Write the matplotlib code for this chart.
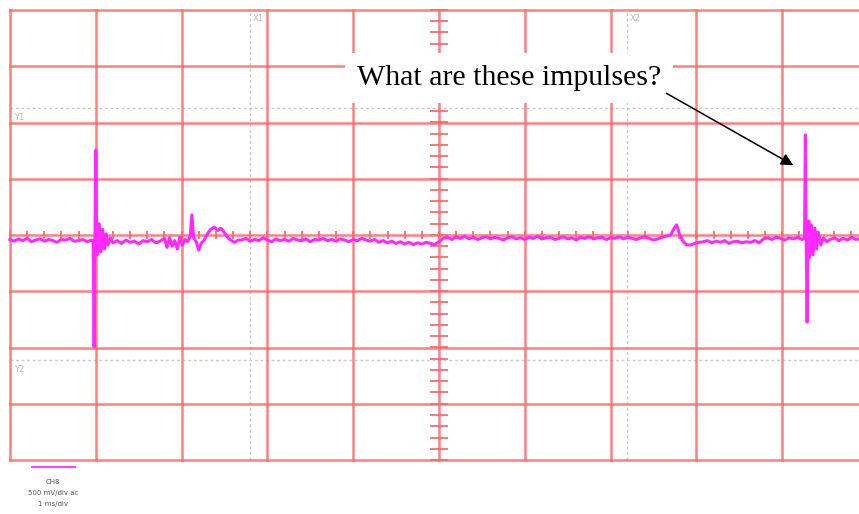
import numpy as np
import matplotlib
matplotlib.use("Agg")
import matplotlib.pyplot as plt

# scope trace, time in divisions, voltage in divisions (0 = centre line)
trace_t = [
    0.00, 0.05, 0.10, 0.15, 0.20, 0.25, 0.30, 0.35, 0.40, 0.45,
    0.50, 0.55, 0.60, 0.65, 0.70, 0.75, 0.80, 0.85, 0.90, 0.95,
    0.97, 0.98, 0.99, 1.00, 1.01, 1.02, 1.04, 1.06, 1.08, 1.10,
    1.12, 1.14, 1.17, 1.20,
    1.25, 1.30, 1.35, 1.40, 1.45, 1.50, 1.55, 1.60, 1.65, 1.70, 1.75,
    1.80, 1.83, 1.86, 1.89, 1.92, 1.95, 1.98, 2.01, 2.04, 2.07,
    2.10, 2.12, 2.14, 2.17, 2.20, 2.23, 2.26, 2.30, 2.34, 2.38,
    2.42, 2.46, 2.50, 2.54, 2.58, 2.62, 2.66,
    2.70, 2.75, 2.80, 2.85, 2.90, 2.95, 3.00, 3.05, 3.10, 3.15,
    3.20, 3.25, 3.30, 3.35, 3.40, 3.45, 3.50, 3.55, 3.60, 3.65,
    3.70, 3.75, 3.80, 3.85, 3.90, 3.95, 4.00, 4.05, 4.10, 4.15,
    4.20, 4.25, 4.30, 4.35, 4.40, 4.45, 4.50, 4.55, 4.60, 4.65,
    4.70, 4.75, 4.80, 4.85,
    4.90, 4.95, 5.00, 5.05, 5.10, 5.15, 5.20, 5.25, 5.30, 5.35,
    5.40, 5.45, 5.50, 5.55, 5.60, 5.65, 5.70, 5.75, 5.80, 5.85,
    5.90, 5.95, 6.00, 6.05, 6.10, 6.15, 6.20, 6.25, 6.30, 6.35,
    6.40, 6.45, 6.50, 6.55, 6.60, 6.65, 6.70, 6.75, 6.80, 6.85,
    6.90, 6.95, 7.00, 7.05, 7.10, 7.15, 7.20, 7.25, 7.30, 7.35,
    7.40, 7.45, 7.50, 7.55, 7.60, 7.65,
    7.70, 7.74, 7.77, 7.80, 7.84, 7.88, 7.93, 7.98, 8.03,
    8.08, 8.13, 8.18, 8.23, 8.28, 8.33, 8.38, 8.43, 8.48, 8.53,
    8.58, 8.63, 8.68, 8.73, 8.78, 8.83, 8.88, 8.93, 8.98, 9.03,
    9.08, 9.13, 9.18, 9.23,
    9.26, 9.27, 9.28, 9.29, 9.30, 9.31, 9.32, 9.34, 9.36, 9.38,
    9.40, 9.42, 9.45, 9.48, 9.52,
    9.56, 9.61, 9.66, 9.71, 9.76, 9.81, 9.86, 9.91,
]
trace_v = [
    -0.08, -0.11, -0.07, -0.10, -0.06, -0.12, -0.09, -0.07, -0.11, -0.08,
    -0.10, -0.13, -0.08, -0.09, -0.06, -0.11, -0.10, -0.08, -0.12, -0.09,
    -0.10, -1.99, -0.05, 1.51, 0.05, -0.35, 0.20, -0.30, 0.10, -0.25,
    0.02, -0.18, -0.05, -0.14,
    -0.10, -0.15, -0.09, -0.13, -0.11, -0.16, -0.10, -0.12, -0.08, -0.14, -0.11,
    -0.06, -0.22, -0.05, -0.20, -0.10, -0.25, -0.04, -0.18, -0.08, -0.12,
    -0.02, 0.36, -0.05, -0.12, -0.27, -0.14, -0.10, 0.02, 0.10, 0.14,
    0.08, 0.12, 0.04, -0.05, -0.10, -0.13, -0.09,
    -0.09, -0.06, -0.11, -0.08, -0.10, -0.05, -0.09, -0.12, -0.07, -0.10,
    -0.08, -0.11, -0.06, -0.09, -0.10, -0.07, -0.12, -0.08, -0.09, -0.06,
    -0.10, -0.08, -0.11, -0.07, -0.09, -0.12, -0.08, -0.10, -0.06, -0.09,
    -0.11, -0.08, -0.13, -0.10, -0.14, -0.11, -0.15, -0.12, -0.16, -0.13,
    -0.17, -0.14, -0.16, -0.13,
    -0.15, -0.17, -0.12, -0.06, -0.04, -0.08, -0.03, -0.06, -0.02, -0.07,
    -0.04, -0.08, -0.05, -0.03, -0.07, -0.04, -0.06, -0.09, -0.05, -0.03,
    -0.07, -0.05, -0.08, -0.04, -0.06, -0.02, -0.07, -0.05, -0.04, -0.08,
    -0.06, -0.03, -0.07, -0.05, -0.09, -0.04, -0.06, -0.03, -0.07, -0.05,
    -0.04, -0.08, -0.05, -0.06, -0.03, -0.07, -0.04, -0.06, -0.08, -0.05,
    -0.03, -0.06, -0.09, -0.07, -0.04, -0.02,
    0.00, 0.12, 0.18, 0.03, -0.10, -0.17, -0.18, -0.15, -0.13,
    -0.12, -0.10, -0.14, -0.11, -0.13, -0.10, -0.15, -0.12, -0.11, -0.14,
    -0.12, -0.13, -0.10, -0.14, -0.07, -0.05, -0.08, -0.04, -0.06, -0.09,
    -0.05, -0.07, -0.04, -0.08,
    -0.05, 1.78, -0.10, -1.55, -0.20, 0.25, -0.40, 0.18, -0.35, 0.12,
    -0.25, 0.05, -0.18, -0.05, -0.12,
    -0.08, -0.05, -0.10, -0.06, -0.09, -0.04, -0.08, -0.06,
]

cursor_x = [2.80, 7.19]
cursor_y = [2.26, -2.22]
cursor_x_labels = ["X1", "X2"]
cursor_y_labels = ["Y1", "Y2"]
legend_lines = ["CH8", "500 mV/div ac", "1 ms/div"]
note = "What are these impulses?"

grid_red = "#ff6b6b"

fig = plt.figure(figsize=(8.59, 5.14), dpi=100)
ax = fig.add_axes([0, 0, 1, 1])
ax.set_xlim(-10 / 85.8, 849 / 85.8)
ax.set_ylim(-279 / 56.25, 235 / 56.25)
ax.axis("off")

# graticule
for x in range(11):
    ax.plot([x, x], [-4, 4], color=grid_red, lw=1.8, alpha=0.85, zorder=1)
for y in range(-4, 5):
    ax.plot([0, 10], [y, y], color=grid_red, lw=1.8, alpha=0.85, zorder=1)
minor = np.arange(-4, 4.01, 0.2)
ax.hlines(minor, 4.9, 5.1, color=grid_red, lw=1.3, zorder=1)
minor_t = np.arange(0, 10.01, 0.2)
ax.vlines(minor_t, -0.07, 0.07, color=grid_red, lw=1.3, zorder=1)

# cursors
for cx, lab in zip(cursor_x, cursor_x_labels):
    ax.plot([cx, cx], [-4, 4], color="#c8c8c8", lw=1, ls=(0, (2, 2)), zorder=0.5)
    ax.text(cx + 0.03, 3.85, lab, fontsize=6, color="#b8b8b8", va="center")
for cy, lab in zip(cursor_y, cursor_y_labels):
    ax.plot([0, 10], [cy, cy], color="#c8c8c8", lw=1, ls=(0, (2, 2)), zorder=0.5)
    ax.text(0.05, cy - 0.17, lab, fontsize=6, color="#b8b8b8", va="center")

# trace
ax.plot(trace_t, trace_v, color="#ff2aff", lw=2.2, zorder=3)

# annotation
ax.annotate("", xy=(9.13, 1.24), xytext=(7.65, 2.52),
            arrowprops=dict(arrowstyle="-|>", color="black", lw=1.1,
                            mutation_scale=18, shrinkA=0, shrinkB=0),
            zorder=5)
ax.text(5.82, 2.79, note, fontsize=21.5, family="Liberation Serif",
        ha="center", va="center", zorder=4,
        bbox=dict(boxstyle="square,pad=0.4", fc="white", ec="none"))

# channel legend
fig.lines.append(plt.Line2D([32 / 859, 75 / 859], [0.091, 0.091],
                            transform=fig.transFigure, color="#ff44ff", lw=1.5))
for i, s in enumerate(legend_lines):
    fig.text(0.062, 0.062 - i * 0.021, s, fontsize=5, color="#555555",
             ha="center", va="center")

plt.savefig("out.png", dpi=100)
